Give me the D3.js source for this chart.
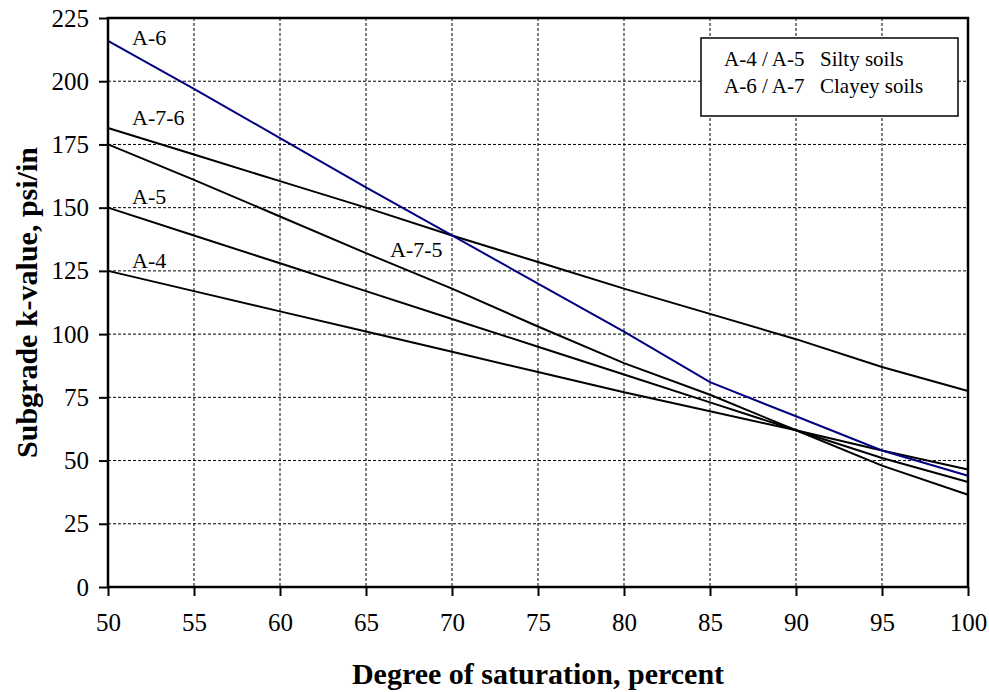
<!DOCTYPE html>
<html>
<head>
<meta charset="utf-8">
<script src="https://cdn.jsdelivr.net/npm/d3@7"></script>
<style>
  body { margin: 0; background: #fff; }
  svg text { font-family: "Times New Roman", "Liberation Serif", serif; fill: #000; }
  .grid line { stroke: #000; stroke-width: 1; stroke-dasharray: 3,2; }
</style>
</head>
<body>
<div id="chart"></div>
<script>
const saturation = [50, 55, 60, 65, 70, 75, 80, 85, 90, 95, 100];
const a4 = [125, 117, 109, 101, 93, 85, 77, 69.5, 62, 54, 46.5];
const a5 = [150, 139, 128, 117, 106, 95, 84, 73, 62, 51, 41.5];
const a75 = [175, 161, 146.5, 132, 118, 103, 88.5, 76, 62, 48, 36.5];
const a76 = [181.5, 171, 160.5, 150, 139, 128.5, 118, 108, 98, 87, 77.5];
const a6 = [216, 197, 177.5, 158, 139, 120, 101, 81, 67.5, 54, 44];
const xTicks = [50, 55, 60, 65, 70, 75, 80, 85, 90, 95, 100];
const yTicks = [0, 25, 50, 75, 100, 125, 150, 175, 200, 225];
const legendLines = [["A-4 / A-5", "Silty soils"], ["A-6 / A-7", "Clayey soils"]];
const labelData = [
    ["A-6", 51.4, 214.5],
    ["A-7-6", 51.4, 182.5],
    ["A-5", 51.4, 151.5],
    ["A-4", 51.4, 126],
    ["A-7-5", 66.4, 130.5]
];

const width = 989, height = 692;
const margin = { top: 18, right: 21, bottom: 105, left: 108 };
const plotW = width - margin.left - margin.right;
const plotH = height - margin.top - margin.bottom;

const x = d3.scaleLinear().domain([50, 100]).range([0, plotW]);
const y = d3.scaleLinear().domain([0, 225]).range([plotH, 0]);

const svg = d3.select("#chart").append("svg")
    .attr("width", width)
    .attr("height", height);

const g = svg.append("g").attr("transform", `translate(${margin.left},${margin.top})`);

// gridlines
g.append("g").attr("class", "grid")
    .selectAll("line").data(xTicks.slice(1, -1)).enter().append("line")
    .attr("x1", d => x(d)).attr("x2", d => x(d))
    .attr("y1", 0).attr("y2", plotH);
g.append("g").attr("class", "grid")
    .selectAll("line").data(yTicks.slice(1, -1)).enter().append("line")
    .attr("x1", 0).attr("x2", plotW)
    .attr("y1", d => y(d)).attr("y2", d => y(d));

// axes
const xAxis = g.append("g")
    .attr("transform", `translate(0,${plotH})`)
    .call(d3.axisBottom(x).tickValues(xTicks).tickSize(9).tickPadding(17));
const yAxis = g.append("g")
    .call(d3.axisLeft(y).tickValues(yTicks).tickSize(9).tickPadding(10));

[xAxis, yAxis].forEach(a => {
    a.select(".domain").remove();
    a.selectAll(".tick line").attr("stroke", "#000").attr("stroke-width", 2);
    a.selectAll(".tick text").style("font-size", "25px").attr("fill", "#000");
});

// lines
const line = d3.line().x((d, i) => x(saturation[i])).y(d => y(d));
const series = [
    { values: a4, color: "#000" },
    { values: a5, color: "#000" },
    { values: a75, color: "#000" },
    { values: a76, color: "#000" },
    { values: a6, color: "#000080" }
];
g.selectAll(".series").data(series).enter().append("path")
    .attr("class", "series")
    .attr("fill", "none")
    .attr("stroke", d => d.color)
    .attr("stroke-width", 2)
    .attr("d", d => line(d.values));

// frame
g.append("rect")
    .attr("x", 0).attr("y", 0)
    .attr("width", plotW).attr("height", plotH)
    .attr("fill", "none")
    .attr("stroke", "#000")
    .attr("stroke-width", 2.5);

// series labels
g.selectAll(".lbl").data(labelData).enter().append("text")
    .attr("class", "lbl")
    .attr("x", d => x(d[1]))
    .attr("y", d => y(d[2]))
    .style("font-size", "22px")
    .text(d => d[0]);

// legend
const lg = svg.append("g").attr("transform", "translate(701,38)");
lg.append("rect")
    .attr("width", 257).attr("height", 78)
    .attr("fill", "#fff")
    .attr("stroke", "#000")
    .attr("stroke-width", 1.5);
lg.selectAll(".lg1").data(legendLines).enter().append("text")
    .attr("x", 23).attr("y", (d, i) => 28 + i * 27)
    .style("font-size", "21px")
    .text(d => d[0]);
lg.selectAll(".lg2").data(legendLines).enter().append("text")
    .attr("x", 119).attr("y", (d, i) => 28 + i * 27)
    .style("font-size", "21px")
    .text(d => d[1]);

// axis titles
svg.append("text")
    .attr("x", margin.left + plotW / 2)
    .attr("y", 684)
    .attr("text-anchor", "middle")
    .style("font-size", "30px")
    .style("font-weight", "bold")
    .text("Degree of saturation, percent");

svg.append("text")
    .attr("transform", `translate(37,${margin.top + plotH / 2}) rotate(-90)`)
    .attr("text-anchor", "middle")
    .style("font-size", "30px")
    .style("font-weight", "bold")
    .text("Subgrade k-value, psi/in");
</script>
</body>
</html>
